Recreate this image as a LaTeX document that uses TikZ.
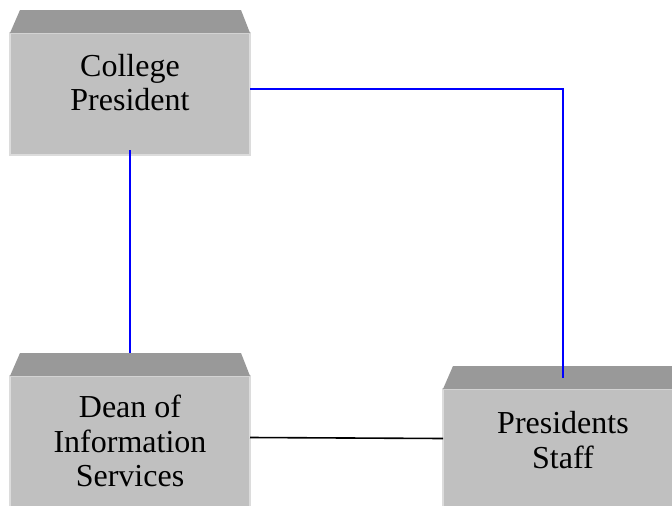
\documentclass[tikz,border=0pt]{standalone}
\usepackage{fontspec}
\setmainfont{Liberation Serif}
\usetikzlibrary{calc}
\usetikzlibrary{positioning}
\definecolor{bodygray}{HTML}{C0C0C0}
\definecolor{topgray}{HTML}{999999}
\definecolor{edgegray}{HTML}{DCDCDC}

\begin{document}
\begin{tikzpicture}[x=1pt,y=-1pt,
    block/.style={rectangle,fill=bodygray,draw=edgegray,line width=1.2pt,minimum width=240pt,inner sep=0pt,outer sep=0pt},
    caption/.style={align=center,inner sep=0pt,font=\fontsize{32}{34.5}\selectfont},
    blueline/.style={blue,line width=1.6pt},
    blackline/.style={black,line width=1.6pt}]
  \useasboundingbox (0,0) rectangle (672,506);
  \clip (0,0) rectangle (672,506);

  \foreach \nm/\cx/\ty/\h in {cp/130/33/122,dean/130/376/140,staff/563/389/140} {
      \node[block,anchor=north,minimum height=\h pt] (\nm) at (\cx,\ty) {};
      \fill[topgray] (\nm.north west) -- ++(10,-23) -- ($(\nm.north east)+(-9,-23)$) -- (\nm.north east) -- cycle; %top bevel
    }

  \node[caption] (cp-text) at ([yshift=11.5pt]cp.center) {College\\President};
  \node[caption] (dean-text) at ([yshift=5pt]dean.center) {Dean of\\Information\\Services};
  \node[caption] (staff-text) at ([yshift=19pt]staff.center) {Presidents\\Staff};

  \draw[blueline] ([yshift=5pt]cp.east) -| ([yshift=11pt]staff.north);
  \draw[blueline] ([yshift=5pt]cp.south) -- ([yshift=23pt]dean.north);
  \draw[blackline] ([yshift=8.5pt]dean.east) -- ([yshift=20.5pt]staff.west);
\end{tikzpicture}
\end{document}
